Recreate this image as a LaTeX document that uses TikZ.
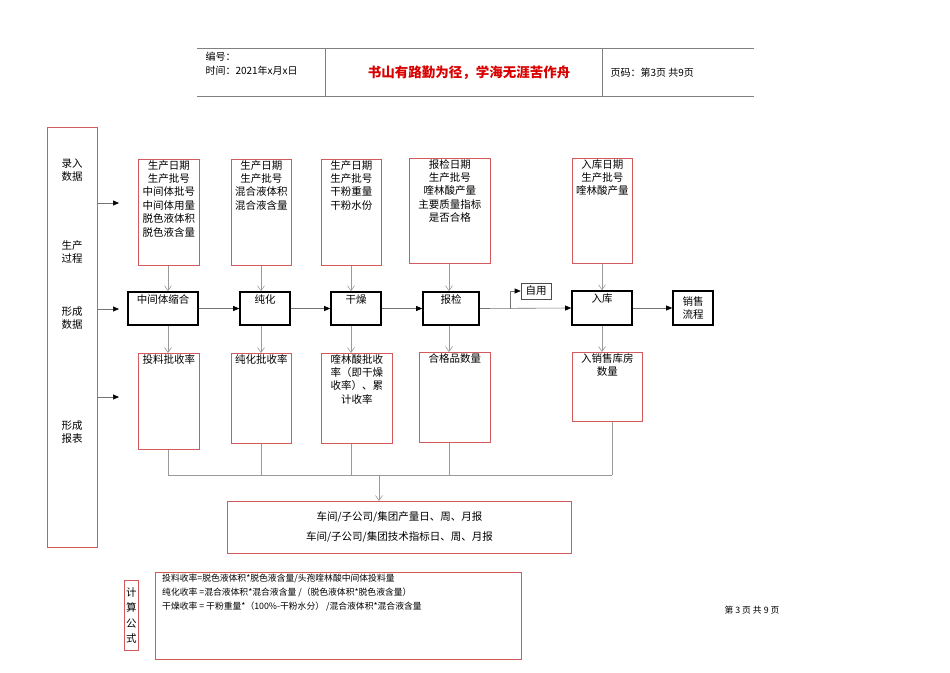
\documentclass[tikz,border=0pt]{standalone}
\usepackage{fontspec}
\setmainfont{Noto Sans CJK SC}
\usetikzlibrary{arrows.meta}
\definecolor{rb}{RGB}{210,90,90}
\tikzset{
 rbox/.style={draw=rb,line width=0.8pt,align=center,anchor=north west,inner sep=1pt},
 pbox/.style={draw=black,line width=1.6pt,align=center,font=\fontsize{10.5}{12.5}\selectfont},
 gl/.style={draw=black!40,line width=0.6pt},
 ga/.style={gl,-{Straight Barb[length=5pt,width=7pt]}},
 ba/.style={draw=black!55,line width=0.6pt,-{Triangle[length=6pt,width=5pt,fill=black,color=black]}},
 lbl/.style={font=\fontsize{10.5}{13.5}\selectfont,align=center},
 bt/.style={lbl,anchor=north,inner sep=1pt,font=\fontsize{10.5}{13.4}\selectfont},
}
\begin{document}
\begin{tikzpicture}[x=1pt,y=-1pt]
\useasboundingbox (0,0) rectangle (950,672);
% header
\draw[black!50,line width=0.8pt] (197,48)--(754,48) (197,96)--(754,96) (325,48)--(325,96) (602,48)--(602,96);
\node[anchor=west,font=\fontsize{10}{12}\selectfont] (h1) at (202,57) {编号：};
\node[anchor=west,font=\fontsize{10}{12}\selectfont] (h2) at (202,71) {时间：2021年x月x日};
\node[font=\fontsize{13.5}{15}\selectfont\bfseries,text=red!85!black] (h3) at (469,73) {书山有路勤为径，学海无涯苦作舟};
\node[anchor=west,font=\fontsize{10}{12}\selectfont] (h4) at (607,73) {页码：第3页 共9页};
% left box
\node[draw=rb,line width=0.8pt,minimum width=50,minimum height=420,anchor=north west,inner sep=0] (L) at (47,127) {};
\node[lbl] (l1) at (72,170) {录入\\数据};
\node[lbl] (l2) at (72,252) {生产\\过程};
\node[lbl] (l3) at (72,318) {形成\\数据};
\node[lbl] (l4) at (72,432) {形成\\报表};
\coordinate (a1) at (98,203); \coordinate (a1e) at (119,203);
\coordinate (a2) at (98,309); \coordinate (a2e) at (119,309);
\coordinate (a3) at (98,397); \coordinate (a3e) at (119,397);
\foreach \s/\e in {a1/a1e,a2/a2e,a3/a3e} \draw[ba] (\s)--(\e);
% top boxes
\node[rbox,minimum width=61,minimum height=106] (t1) at (138,159) {};
\node[bt] at (t1.north) {生产日期\\生产批号\\中间体批号\\中间体用量\\脱色液体积\\脱色液含量};
\node[rbox,minimum width=60,minimum height=106] (t2) at (231,159) {};
\node[bt] at (t2.north) {生产日期\\生产批号\\混合液体积\\混合液含量};
\node[rbox,minimum width=60,minimum height=106] (t3) at (321,159) {};
\node[bt] at (t3.north) {生产日期\\生产批号\\干粉重量\\干粉水份};
\node[rbox,minimum width=81,minimum height=105] (t4) at (409,158) {};
\node[bt] at (t4.north) {报检日期\\生产批号\\喹林酸产量\\主要质量指标\\是否合格};
\node[rbox,minimum width=60,minimum height=105] (t5) at (572,158) {};
\node[bt] at (t5.north) {入库日期\\生产批号\\喹林酸产量};
% process boxes
\node[pbox,minimum width=70,minimum height=33] (p1) at (163,308.5) {};
\node[anchor=north,font=\fontsize{10.5}{12}\selectfont] at (p1.north) {中间体缩合};
\node[pbox,minimum width=50,minimum height=33] (p2) at (265,308.5) {};
\node[anchor=north,font=\fontsize{10.5}{12}\selectfont] at (p2.north) {纯化};
\node[pbox,minimum width=50,minimum height=33] (p3) at (356,308.5) {};
\node[anchor=north,font=\fontsize{10.5}{12}\selectfont] at (p3.north) {干燥};
\node[pbox,minimum width=56,minimum height=33] (p4) at (451,308.5) {};
\node[anchor=north,font=\fontsize{10.5}{12}\selectfont] at (p4.north) {报检};
\node[pbox,minimum width=60,minimum height=34] (p5) at (602,308) {};
\node[anchor=north,font=\fontsize{10.5}{12}\selectfont] at (p5.north) {入库};
\node[pbox,minimum width=40,minimum height=34,font=\fontsize{10.5}{13}\selectfont] (p6) at (693,308) {销售\\流程};
\node[draw=black!70,line width=0.6pt,minimum width=30,minimum height=16,inner sep=0,font=\fontsize{10.5}{12}\selectfont] (zy) at (536,291) {自用};
% bottom boxes
\node[rbox,minimum width=61,minimum height=96] (b1) at (138,353) {};
\node[bt] at (b1.north) {投料批收率};
\node[rbox,minimum width=60,minimum height=90] (b2) at (231,353) {};
\node[bt] at (b2.north) {纯化批收率};
\node[rbox,minimum width=71,minimum height=90] (b3) at (321,353) {};
\node[bt] at (b3.north) {喹林酸批收\\率（即干燥\\收率）、累\\计收率};
\node[rbox,minimum width=71,minimum height=90] (b4) at (419,352) {};
\node[bt] at (b4.north) {合格品数量};
\node[rbox,minimum width=70,minimum height=69] (b5) at (572,352) {};
\node[bt] at (b5.north) {入销售库房\\数量};
% vertical gray arrows
\foreach \t/\p/\x in {t1/p1/168,t2/p2/261,t3/p3/351,t4/p4/449,t5/p5/602}
  \draw[ga] (\t.south -| \x,0)--(\p.north -| \x,0);
\foreach \p/\b/\x in {p1/b1/168,p2/b2/261,p3/b3/351,p4/b4/449,p5/b5/602}
  \draw[ga] (\p.south -| \x,0)--(\b.north -| \x,0);
% process arrows
\draw[ba] (p1.east)--(p2.west);
\draw[ba] (p2.east)--(p3.west);
\draw[ba] (p3.east)--(p4.west);
\draw[ba] (p4.east)--(p5.west);
\draw[ba] (p5.east)--(p6.west);
\coordinate (br) at (510,308.5);
\draw[ba] (br)|-(zy.west);
% report
\node[rbox,minimum width=344,minimum height=52] (R) at (227,501) {};
\node[font=\fontsize{10.5}{20}\selectfont,align=center] at (R.center) {车间/子公司/集团产量日、周、月报\\车间/子公司/集团技术指标日、周、月报};
\coordinate (j) at (379,475);
\foreach \b/\x in {b1/168,b2/261,b3/351,b4/449,b5/612}
  \draw[gl] (\b.south -| \x,0)--(\x,475);
\draw[gl] (168,475)--(612,475);
\draw[ga] (j)--(R.north -| j);
% formulas
\node[draw=rb,line width=0.8pt,minimum width=14,minimum height=70,inner sep=0,anchor=north west] (C) at (124,580) {};
\node[font=\fontsize{10.5}{15.5}\selectfont,align=center] at (C.center) {计\\算\\公\\式};
\node[rbox,minimum width=366,minimum height=87] (F) at (155,572) {};
\node[anchor=north west,align=left,font=\fontsize{8.8}{14}\selectfont,inner sep=0] at (162,574) {投料收率=脱色液体积*脱色液含量/头孢喹林酸中间体投料量\\纯化收率 =混合液体积*混合液含量 /（脱色液体积*脱色液含量）\\干燥收率 = 干粉重量*（100\%-干粉水分） /混合液体积*混合液含量};
\node[font=\fontsize{8.8}{10}\selectfont] (pg) at (752,610) {第 3 页 共 9 页};
\end{tikzpicture}
\end{document}
